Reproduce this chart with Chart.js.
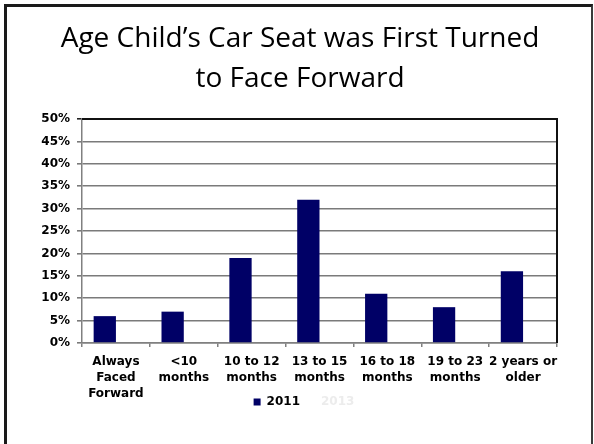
<!DOCTYPE html>
<html>
<head>
<meta charset="utf-8">
<script src="https://cdn.jsdelivr.net/npm/chart.js@4.4.1/dist/chart.umd.min.js"></script>
<style>
  html, body { margin: 0; padding: 0; background: #fff; }
  #wrap { position: relative; width: 594px; height: 444px; overflow: hidden; }
  #frame { position: absolute; left: 4px; top: 4px; width: 589px; height: 460px;
           border-left: 3px solid #1a1a1a; border-top: 3px solid #1a1a1a; border-right: 2px solid #3a3a3a; box-sizing: border-box; }
  canvas { position: absolute; left: 0; top: 0; }
</style>
</head>
<body>
<div id="wrap">
  <div id="frame"></div>
  <canvas id="c" width="594" height="444"></canvas>
</div>
<script>
const titleLines = ["Age Child\u2019s Car Seat was First Turned", "to Face Forward"];
const categories = [
  ["Always", "Faced", "Forward"],
  ["<10", "months"],
  ["10 to 12", "months"],
  ["13 to 15", "months"],
  ["16 to 18", "months"],
  ["19 to 23", "months"],
  ["2 years or", "older"]
];
const values2011 = [6, 7, 19, 32, 11, 8, 16];
const values2013 = [null, null, null, null, null, null, null];
const seriesNames = ["2011", "2013"];
const yMin = 0, yMax = 50, yStep = 5;

const frameLines = {
  id: 'frameLines',
  afterLayout(chart) {
    // let the category labels run below their box, as in the reference
    chart.scales.x._computeLabelArea = () => undefined;
    // legend and title sit a little right of the padded centre
    chart.legend.left += 8;
    chart.legend.right += 8;
    chart.titleBlock.left += 4;
    chart.titleBlock.right += 4;
  },
  afterDatasetsDraw(chart) {
    const a = chart.chartArea, ctx = chart.ctx;
    ctx.save();
    ctx.strokeStyle = '#111';
    ctx.lineWidth = 2;
    ctx.beginPath();
    ctx.moveTo(a.left, a.top);
    ctx.lineTo(a.right, a.top);
    ctx.lineTo(a.right, a.bottom);
    ctx.stroke();
    ctx.restore();
  }
};

new Chart(document.getElementById('c'), {
  type: 'bar',
  data: {
    labels: categories,
    datasets: [
      { label: seriesNames[0], data: values2011, backgroundColor: '#000066', borderWidth: 0,
        barPercentage: 1, categoryPercentage: 0.657 },
      { label: seriesNames[1], data: values2013, backgroundColor: '#ffffff', borderWidth: 0,
        barPercentage: 1, categoryPercentage: 0.657 }
    ]
  },
  options: {
    responsive: false,
    animation: false,
    layout: { padding: { left: 35, right: 37, top: 0, bottom: 26 } },
    plugins: {
      title: {
        display: true,
        text: titleLines,
        color: '#000',
        font: { family: 'Open Sans', size: 28, weight: 'normal', lineHeight: 1.43 },
        padding: { top: 19, bottom: 20 }
      },
      legend: {
        position: 'bottom',
        labels: {
          boxWidth: 7, boxHeight: 7, padding: 8,
          font: { family: 'DejaVu Sans', size: 12, weight: 'bold' },
          color: '#000',
          generateLabels(chart) {
            return chart.data.datasets.map((ds, i) => ({
              text: ds.label,
              fillStyle: ds.backgroundColor,
              strokeStyle: ds.backgroundColor,
              lineWidth: 0,
              fontColor: i === 0 ? '#000' : '#ececec',
              hidden: false,
              datasetIndex: i
            }));
          }
        }
      },
      tooltip: { enabled: false }
    },
    scales: {
      x: {
        grid: { display: true, drawOnChartArea: false, drawTicks: true, tickLength: 4, color: '#808080', lineWidth: 1.5, offset: true },
        border: { display: true, color: '#808080', width: 1.5 },
        ticks: { color: '#000', padding: 7, maxRotation: 0, autoSkip: false,
                 font: { family: 'DejaVu Sans', size: 12, weight: 'bold', lineHeight: 1.33 } },
        afterFit(scale) { scale.height = 45; }
      },
      y: {
        min: yMin, max: yMax,
        grid: { color: (c) => (c.tick && c.tick.value === yMax) ? '#222' : '#7a7a7a', lineWidth: 1.6, tickLength: 5 },
        border: { display: true, color: '#808080', width: 1.5 },
        ticks: { stepSize: yStep, color: '#000', padding: 7,
                 font: { family: 'DejaVu Sans', size: 12, weight: 'bold' },
                 callback: (v) => v + '%' },
        afterFit(scale) { scale.width = 47; }
      }
    }
  },
  plugins: [frameLines]
});
</script>
</body>
</html>
